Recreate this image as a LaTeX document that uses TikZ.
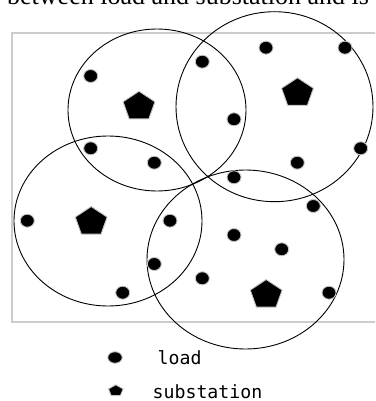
\documentclass[tikz,border=0pt]{standalone}
\usepackage{fontspec}
\usetikzlibrary{shapes.geometric}
\newfontfamily\legendfont{DejaVu Sans Mono}
\newfontfamily\captionfont{Liberation Serif}
\tikzset{
  zone/.style={ellipse, draw=black, line width=0.9pt, inner sep=0pt, outer sep=0pt},
  loadpt/.style={ellipse, fill=black, draw=gray!45, line width=0.9pt, inner sep=0pt, minimum width=14pt, minimum height=13pt},
  subst/.style={regular polygon, regular polygon sides=5, fill=black, draw=gray!45, line width=0.9pt, inner sep=0pt, minimum size=33.5pt, yscale=0.91},
  legtext/.style={anchor=base west, inner sep=0pt, font=\legendfont\fontsize{18.2}{20}\selectfont},
}
\begin{document}
\begin{tikzpicture}[x=1pt,y=-1pt]
\useasboundingbox (0,0) rectangle (375,401);
\clip (0,0) rectangle (375,401);
% cropped caption line
\node[anchor=base west, inner sep=0pt, font=\captionfont\fontsize{26}{28}\selectfont] (cap) at (7,4.5) {between load and substation and is};
% frame
\draw[gray!40, line width=2pt] (11.5,33.5) rectangle (390,321.5);
% zones
\node[zone, minimum width=178pt, minimum height=162pt] (z1) at (157,110) {};
\node[zone, minimum width=197pt, minimum height=190pt] (z2) at (274.5,106.7) {};
\node[zone, minimum width=188pt, minimum height=170pt] (z3) at (108,221) {};
\node[zone, minimum width=197pt, minimum height=179pt] (z4) at (245.5,259.5) {};
% substations
\node[subst] (s1) at (139,106.5) {};
\node[subst] (s2) at (297.5,93) {};
\node[subst] (s3) at (91.2,221.8) {};
\node[subst] (s4) at (266.2,294.8) {};
% loads
\node[loadpt] (l1) at (90.7,76) {};
\node[loadpt] (l2) at (90.7,148.3) {};
\node[loadpt] (l3) at (154.3,162.7) {};
\node[loadpt] (l4) at (266,47.7) {};
\node[loadpt] (l5) at (345,47.7) {};
\node[loadpt] (l6) at (202.3,61.7) {};
\node[loadpt] (l7) at (234,119.3) {};
\node[loadpt] (l8) at (360.7,148.3) {};
\node[loadpt] (l9) at (297.3,162.7) {};
\node[loadpt] (l10) at (234,177.3) {};
\node[loadpt] (l11) at (27.3,220.7) {};
\node[loadpt] (l12) at (170,220.7) {};
\node[loadpt] (l13) at (154.3,264) {};
\node[loadpt] (l14) at (122.7,292.7) {};
\node[loadpt] (l15) at (313.3,206) {};
\node[loadpt] (l16) at (234,235) {};
\node[loadpt] (l17) at (281.7,249.3) {};
\node[loadpt] (l18) at (202.3,278.3) {};
\node[loadpt] (l19) at (329,292.7) {};
% legend
\node[loadpt, minimum width=14.5pt, minimum height=11.5pt] (kl) at (115,357.5) {};
\node[subst, minimum size=15.5pt, yscale=0.85] (ks) at (115.8,390.8) {};
\node[legtext] (tl) at (157.5,364.3) {load};
\node[legtext] (ts) at (152.5,398) {substation};
\end{tikzpicture}
\end{document}
